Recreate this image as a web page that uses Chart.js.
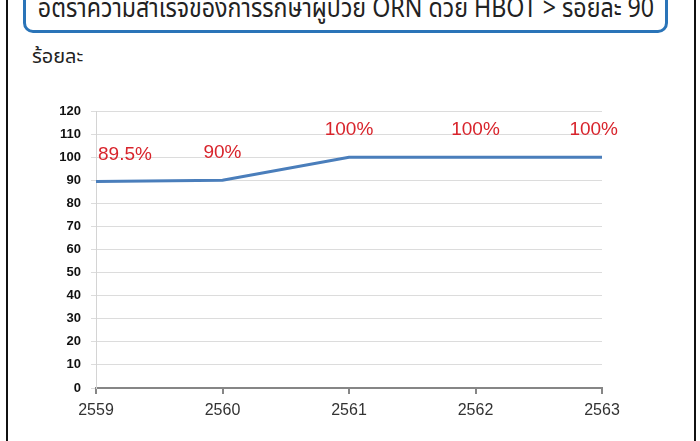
<!DOCTYPE html>
<html>
<head>
<meta charset="utf-8">
<script src="https://cdn.jsdelivr.net/npm/chart.js@4"></script>
<style>
  body { margin: 0; background: #fff; }
  #wrap { position: relative; width: 700px; height: 441px; overflow: hidden; }
  #frame { position: absolute; left: 6px; top: -10px; width: 686px; height: 470px; border: 2px solid #111; }
  #title { position: absolute; left: 23px; top: -30px; width: 645px; height: 63px; border: 3px solid #2a74b8; border-radius: 10px;
           box-sizing: border-box; overflow: hidden; }
  #title span { position: absolute; left: 50%; top: 18px; white-space: nowrap; transform: translateX(-50%) scaleX(0.86);
           font-family: "Noto Sans Thai", Tahoma, "DejaVu Sans", sans-serif; font-size: 27px; color: #222; line-height: 35px; }
  #unit { position: absolute; left: 32px; top: 42px; font-family: "Noto Sans Thai", Tahoma, "DejaVu Sans", sans-serif; font-size: 20px; color: #222; }
  #chart { position: absolute; left: 0; top: 0; }
</style>
</head>
<body>
<div id="wrap">
  <div id="frame"></div>
  <div id="title"><span>อัตราความสำเร็จของการรักษาผู้ป่วย ORN ด้วย HBOT &gt; ร้อยละ 90</span></div>
  <div id="unit">ร้อยละ</div>
  <canvas id="chart" width="700" height="441"></canvas>
</div>
<script>
const years = ["2559", "2560", "2561", "2562", "2563"];
const successRate = [89.5, 90, 100, 100, 100];
const rateLabels = ["89.5%", "90%", "100%", "100%", "100%"];

// red value labels above each point, kept inside the plot width
const valueLabels = {
    id: "valueLabels",
    afterDatasetsDraw(chart) {
        const ctx = chart.ctx;
        const area = chart.chartArea;
        const points = chart.getDatasetMeta(0).data;
        ctx.save();
        ctx.font = "19px 'Liberation Sans', sans-serif";
        ctx.fillStyle = "#d8242c";
        ctx.textAlign = "center";
        ctx.textBaseline = "middle";
        points.forEach(function (p, i) {
            const w = ctx.measureText(rateLabels[i]).width;
            let x = Math.max(p.x, area.left + w / 2 + 2);
            x = Math.min(x, area.right + 16 - w / 2);
            ctx.fillText(rateLabels[i], x, p.y - 27);
        });
        ctx.restore();
    },
};

new Chart(document.getElementById("chart"), {
    type: "line",
    data: {
        labels: years,
        datasets: [
            {
                data: successRate,
                borderColor: "#4a7ebb",
                borderWidth: 3,
                pointRadius: 0,
                tension: 0,
            },
        ],
    },
    options: {
        responsive: false,
        animation: false,
        layout: { padding: { left: 0, right: 98, top: 111, bottom: 0 } },
        plugins: { legend: { display: false }, tooltip: { enabled: false } },
        scales: {
            x: {
                offset: false,
                grid: { drawOnChartArea: false, drawTicks: true, tickLength: 6, color: "#868686", lineWidth: 2 },
                border: { color: "#868686", width: 2 },
                ticks: { color: "#333", padding: 7, maxRotation: 0, font: { family: "Liberation Sans", size: 16 } },
                afterFit: function (scale) { scale.height = 441 - 388; },
            },
            y: {
                min: 0,
                max: 120,
                ticks: { stepSize: 10, color: "#111", padding: 10, font: { family: "Liberation Sans", size: 13, weight: "bold" } },
                grid: { color: "#dcdcdc", tickLength: 5, lineWidth: 1 },
                border: { color: "#d4d4d4" },
                afterFit: function (scale) { scale.width = 96; },
            },
        },
    },
    plugins: [valueLabels],
});
</script>
</body>
</html>
